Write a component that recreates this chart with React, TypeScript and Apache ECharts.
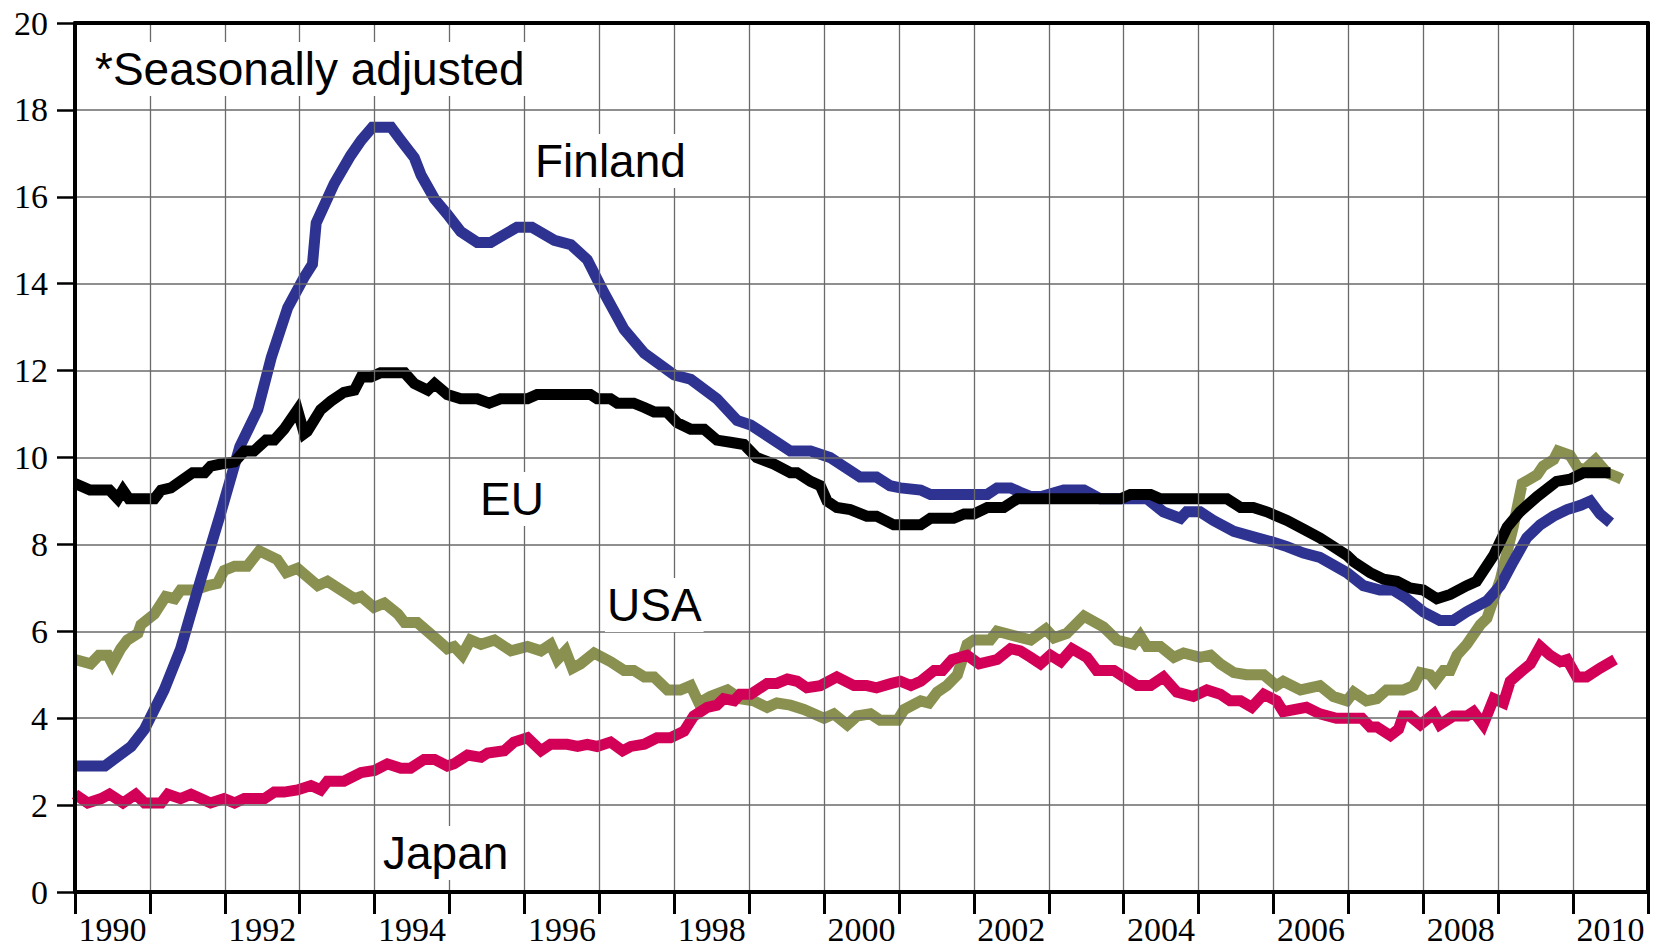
import React, { useEffect, useRef } from "react";
import * as echarts from "echarts";

const finland: [number, number][] = [
  [1990.0, 2.9], [1990.4, 2.9], [1990.75, 3.35], [1990.93, 3.75], [1991.19, 4.65], [1991.41, 5.6],
  [1991.68, 7.2], [1991.95, 8.75], [1992.2, 10.25], [1992.44, 11.1], [1992.62, 12.3], [1992.84, 13.45],
  [1993.06, 14.15], [1993.17, 14.45], [1993.22, 15.4], [1993.46, 16.3], [1993.68, 16.95], [1993.82, 17.3],
  [1993.97, 17.6], [1994.22, 17.6], [1994.35, 17.3], [1994.53, 16.9], [1994.62, 16.5], [1994.8, 15.95],
  [1994.97, 15.6], [1995.15, 15.2], [1995.37, 14.95], [1995.55, 14.95], [1995.9, 15.3], [1996.1, 15.3],
  [1996.4, 15.0], [1996.62, 14.9], [1996.84, 14.55], [1997.06, 13.8], [1997.33, 12.95], [1997.6, 12.4],
  [1998.0, 11.9], [1998.22, 11.8], [1998.57, 11.35], [1998.84, 10.85], [1999.02, 10.75], [1999.55, 10.15],
  [1999.82, 10.15], [2000.08, 10.0], [2000.48, 9.55], [2000.7, 9.55], [2000.88, 9.35], [2001.02, 9.3],
  [2001.29, 9.25], [2001.42, 9.15], [2002.18, 9.15], [2002.31, 9.3], [2002.49, 9.3], [2002.62, 9.2],
  [2002.76, 9.1], [2002.9, 9.1], [2003.2, 9.25], [2003.47, 9.25], [2003.69, 9.05], [2004.31, 9.05],
  [2004.53, 8.75], [2004.76, 8.6], [2004.84, 8.75], [2005.02, 8.75], [2005.2, 8.55], [2005.47, 8.3],
  [2005.78, 8.15], [2006.0, 8.05], [2006.18, 7.95], [2006.4, 7.8], [2006.62, 7.7], [2006.98, 7.35],
  [2007.2, 7.05], [2007.42, 6.95], [2007.6, 6.95], [2007.78, 6.75], [2008.0, 6.45], [2008.22, 6.25],
  [2008.4, 6.25], [2008.58, 6.45], [2008.85, 6.7], [2009.03, 7.05], [2009.2, 7.6], [2009.38, 8.15],
  [2009.56, 8.45], [2009.74, 8.65], [2009.92, 8.8], [2010.1, 8.9], [2010.23, 9.0], [2010.36, 8.7],
  [2010.5, 8.5],
];

const eu: [number, number][] = [
  [1990.0, 9.4], [1990.2, 9.25], [1990.46, 9.25], [1990.57, 9.05], [1990.64, 9.25], [1990.72, 9.05],
  [1991.06, 9.05], [1991.15, 9.25], [1991.28, 9.3], [1991.57, 9.65], [1991.73, 9.65], [1991.81, 9.8],
  [1991.95, 9.85], [1992.13, 9.9], [1992.26, 10.15], [1992.39, 10.15], [1992.55, 10.4], [1992.66, 10.4],
  [1992.79, 10.65], [1992.97, 11.1], [1993.06, 10.55], [1993.1, 10.6], [1993.28, 11.1], [1993.42, 11.3],
  [1993.59, 11.5], [1993.73, 11.55], [1993.82, 11.85], [1993.95, 11.85], [1994.08, 11.95], [1994.4, 11.95],
  [1994.53, 11.7], [1994.71, 11.55], [1994.8, 11.7], [1994.97, 11.45], [1995.15, 11.35], [1995.37, 11.35],
  [1995.53, 11.25], [1995.68, 11.35], [1996.04, 11.35], [1996.17, 11.45], [1996.88, 11.45], [1996.97, 11.35],
  [1997.15, 11.35], [1997.24, 11.25], [1997.46, 11.25], [1997.6, 11.15], [1997.73, 11.05], [1997.9, 11.05],
  [1998.04, 10.8], [1998.22, 10.65], [1998.4, 10.65], [1998.57, 10.4], [1998.75, 10.35], [1998.93, 10.3],
  [1999.1, 10.0], [1999.33, 9.85], [1999.55, 9.65], [1999.64, 9.65], [1999.82, 9.45], [1999.95, 9.35],
  [2000.04, 9.0], [2000.17, 8.85], [2000.35, 8.8], [2000.57, 8.65], [2000.7, 8.65], [2000.93, 8.45],
  [2001.29, 8.45], [2001.42, 8.6], [2001.73, 8.6], [2001.87, 8.7], [2002.0, 8.7], [2002.18, 8.85],
  [2002.4, 8.85], [2002.58, 9.05], [2003.96, 9.05], [2004.09, 9.15], [2004.36, 9.15], [2004.49, 9.05],
  [2005.38, 9.05], [2005.56, 8.85], [2005.73, 8.85], [2005.91, 8.75], [2006.18, 8.55], [2006.4, 8.35],
  [2006.62, 8.15], [2006.98, 7.75], [2007.07, 7.6], [2007.29, 7.35], [2007.47, 7.2], [2007.65, 7.15],
  [2007.82, 7.0], [2008.0, 6.95], [2008.18, 6.75], [2008.36, 6.85], [2008.58, 7.05], [2008.71, 7.15],
  [2008.94, 7.75], [2009.12, 8.4], [2009.29, 8.75], [2009.52, 9.1], [2009.78, 9.45], [2009.96, 9.5],
  [2010.14, 9.65], [2010.5, 9.65],
];

const usa: [number, number][] = [
  [1990.0, 5.35], [1990.21, 5.25], [1990.32, 5.45], [1990.44, 5.45], [1990.5, 5.25], [1990.61, 5.6],
  [1990.7, 5.8], [1990.84, 5.95], [1990.88, 6.15], [1991.06, 6.4], [1991.21, 6.8], [1991.33, 6.75],
  [1991.41, 6.95], [1991.59, 6.95], [1991.77, 7.05], [1991.9, 7.1], [1991.99, 7.4], [1992.13, 7.5],
  [1992.3, 7.5], [1992.46, 7.85], [1992.7, 7.65], [1992.82, 7.35], [1992.97, 7.45], [1993.24, 7.05],
  [1993.37, 7.15], [1993.73, 6.75], [1993.82, 6.8], [1993.99, 6.55], [1994.13, 6.65], [1994.31, 6.4],
  [1994.4, 6.2], [1994.57, 6.2], [1994.84, 5.8], [1994.97, 5.6], [1995.06, 5.65], [1995.17, 5.45],
  [1995.28, 5.8], [1995.42, 5.7], [1995.6, 5.8], [1995.82, 5.55], [1996.04, 5.65], [1996.22, 5.55],
  [1996.35, 5.7], [1996.44, 5.35], [1996.55, 5.55], [1996.64, 5.15], [1996.75, 5.25], [1996.93, 5.5],
  [1997.15, 5.3], [1997.33, 5.1], [1997.46, 5.1], [1997.6, 4.95], [1997.73, 4.95], [1997.91, 4.65],
  [1998.08, 4.65], [1998.22, 4.75], [1998.33, 4.35], [1998.48, 4.5], [1998.71, 4.65], [1998.88, 4.45],
  [1999.06, 4.4], [1999.24, 4.25], [1999.37, 4.35], [1999.55, 4.3], [1999.73, 4.2], [2000.0, 4.0],
  [2000.13, 4.1], [2000.31, 3.85], [2000.44, 4.05], [2000.62, 4.1], [2000.75, 3.95], [2000.98, 3.95],
  [2001.07, 4.2], [2001.29, 4.4], [2001.4, 4.35], [2001.51, 4.6], [2001.64, 4.75], [2001.78, 5.0],
  [2001.91, 5.7], [2002.0, 5.8], [2002.22, 5.8], [2002.31, 6.0], [2002.53, 5.9], [2002.76, 5.8],
  [2002.96, 6.05], [2003.07, 5.85], [2003.24, 5.95], [2003.47, 6.35], [2003.73, 6.1], [2003.91, 5.8],
  [2004.13, 5.7], [2004.22, 5.9], [2004.31, 5.65], [2004.49, 5.65], [2004.67, 5.4], [2004.8, 5.5],
  [2005.02, 5.4], [2005.16, 5.45], [2005.29, 5.25], [2005.47, 5.05], [2005.64, 5.0], [2005.87, 5.0],
  [2006.04, 4.75], [2006.13, 4.85], [2006.36, 4.65], [2006.62, 4.75], [2006.8, 4.5], [2006.98, 4.4],
  [2007.07, 4.6], [2007.24, 4.4], [2007.38, 4.45], [2007.51, 4.65], [2007.73, 4.65], [2007.87, 4.75],
  [2007.96, 5.05], [2008.09, 5.0], [2008.16, 4.85], [2008.27, 5.1], [2008.36, 5.1], [2008.45, 5.45],
  [2008.58, 5.7], [2008.76, 6.15], [2008.85, 6.3], [2009.03, 7.2], [2009.2, 8.4], [2009.32, 9.4],
  [2009.52, 9.6], [2009.6, 9.8], [2009.74, 9.95], [2009.8, 10.15], [2009.96, 10.05], [2010.05, 9.8],
  [2010.14, 9.7], [2010.3, 9.95], [2010.45, 9.65], [2010.59, 9.55], [2010.65, 9.5],
];

const japan: [number, number][] = [
  [1990.0, 2.25], [1990.17, 2.05], [1990.35, 2.15], [1990.46, 2.25], [1990.64, 2.05], [1990.81, 2.25],
  [1990.93, 2.05], [1991.15, 2.05], [1991.24, 2.25], [1991.41, 2.15], [1991.55, 2.25], [1991.81, 2.05],
  [1991.99, 2.15], [1992.13, 2.05], [1992.26, 2.15], [1992.53, 2.15], [1992.66, 2.3], [1992.79, 2.3],
  [1992.97, 2.35], [1993.15, 2.45], [1993.28, 2.35], [1993.37, 2.55], [1993.59, 2.55], [1993.82, 2.75],
  [1994.0, 2.8], [1994.17, 2.95], [1994.35, 2.85], [1994.48, 2.85], [1994.66, 3.05], [1994.8, 3.05],
  [1994.97, 2.9], [1995.06, 2.95], [1995.24, 3.15], [1995.42, 3.1], [1995.51, 3.2], [1995.73, 3.25],
  [1995.86, 3.45], [1996.04, 3.55], [1996.22, 3.25], [1996.35, 3.4], [1996.57, 3.4], [1996.71, 3.35],
  [1996.84, 3.4], [1996.97, 3.35], [1997.15, 3.45], [1997.31, 3.25], [1997.42, 3.35], [1997.6, 3.4],
  [1997.77, 3.55], [1997.95, 3.55], [1998.13, 3.7], [1998.26, 4.05], [1998.44, 4.25], [1998.57, 4.3],
  [1998.66, 4.45], [1998.8, 4.4], [1998.88, 4.55], [1999.02, 4.55], [1999.24, 4.8], [1999.37, 4.8],
  [1999.51, 4.9], [1999.64, 4.85], [1999.77, 4.7], [1999.95, 4.75], [2000.17, 4.95], [2000.4, 4.75],
  [2000.57, 4.75], [2000.7, 4.7], [2000.9, 4.8], [2001.02, 4.85], [2001.16, 4.75], [2001.29, 4.85],
  [2001.47, 5.1], [2001.58, 5.1], [2001.71, 5.35], [2001.91, 5.45], [2002.07, 5.25], [2002.31, 5.35],
  [2002.49, 5.6], [2002.62, 5.55], [2002.76, 5.4], [2002.89, 5.25], [2003.02, 5.45], [2003.16, 5.3],
  [2003.31, 5.6], [2003.51, 5.4], [2003.64, 5.1], [2003.87, 5.1], [2004.0, 4.95], [2004.18, 4.75],
  [2004.36, 4.75], [2004.53, 4.95], [2004.71, 4.6], [2004.93, 4.5], [2005.11, 4.65], [2005.29, 4.55],
  [2005.42, 4.4], [2005.56, 4.4], [2005.71, 4.25], [2005.87, 4.55], [2006.04, 4.4], [2006.13, 4.15],
  [2006.44, 4.25], [2006.62, 4.1], [2006.84, 4.0], [2007.18, 4.0], [2007.29, 3.8], [2007.38, 3.8],
  [2007.56, 3.6], [2007.67, 3.75], [2007.73, 4.05], [2007.82, 4.05], [2007.96, 3.85], [2008.14, 4.1],
  [2008.22, 3.85], [2008.4, 4.05], [2008.58, 4.05], [2008.67, 4.15], [2008.8, 3.85], [2008.94, 4.45],
  [2009.07, 4.35], [2009.16, 4.85], [2009.29, 5.05], [2009.43, 5.25], [2009.56, 5.65], [2009.69, 5.45],
  [2009.83, 5.3], [2009.92, 5.35], [2010.05, 4.95], [2010.18, 4.95], [2010.36, 5.15], [2010.56, 5.35],
];

const X_MIN = 1990;
const X_MAX = 2011;
const Y_MIN = 0;
const Y_MAX = 20;
const Y_STEP = 2;

const sansFamily = "Liberation Sans, Arial, sans-serif";
const serifFont = "34px Liberation Serif, serif";

export default function App() {
  const ref = useRef<HTMLDivElement>(null);

  useEffect(() => {
    if (!ref.current) return;
    const chart = echarts.init(ref.current, undefined, { renderer: "svg" });
    const gridColor = "#6a6a6a";
    const lineStyleFor = (color: string) => ({ color, width: 11, cap: "butt" as const, join: "miter" as const });
    const labelStyle = (text: string) => ({
      text,
      fontSize: 46,
      fontFamily: sansFamily,
      fill: "#000",
      backgroundColor: "#fff",
      padding: [4, 2],
    });
    const xLabelText = (v: number) => {
      const f = Math.floor(v + 1e-6);
      const frac = v - f;
      return Math.abs(frac - 0.5) < 1e-6 && f % 2 === 0 ? String(f) : "";
    };

    const option: any = {
      animation: false,
      backgroundColor: "#ffffff",
      grid: { left: 75, right: 13, top: 23, bottom: 57 },
      xAxis: [
        {
          type: "value",
          min: X_MIN,
          max: X_MAX,
          interval: 1,
          position: "bottom",
          axisLine: { show: true, onZero: false, lineStyle: { color: "#000", width: 4 } },
          axisTick: { show: true, inside: false, length: 22, lineStyle: { color: "#000", width: 3 } },
          axisLabel: { show: false },
          splitLine: { show: true, lineStyle: { color: gridColor, width: 1.3 } },
          z: 3,
        },
        {
          type: "value",
          min: X_MIN,
          max: X_MAX,
          interval: 0.5,
          position: "bottom",
          axisLine: { show: false },
          axisTick: { show: false },
          splitLine: { show: false },
          axisLabel: {
            show: true,
            margin: 20,
            color: "#000",
            fontFamily: "Liberation Serif",
            fontSize: 34,
            formatter: (v: number) => xLabelText(v),
          },
        },
        {
          type: "value",
          min: X_MIN,
          max: X_MAX,
          position: "top",
          axisLine: { show: true, onZero: false, lineStyle: { color: "#000", width: 4 } },
          axisTick: { show: false },
          axisLabel: { show: false },
          splitLine: { show: false },
          z: 3,
        },
      ],
      yAxis: [
        {
          type: "value",
          min: Y_MIN,
          max: Y_MAX,
          interval: Y_STEP,
          position: "left",
          axisLine: { show: true, onZero: false, lineStyle: { color: "#000", width: 4 } },
          axisTick: { show: true, inside: false, length: 18, lineStyle: { color: "#000", width: 2.5 } },
          axisLabel: { show: true, margin: 27, color: "#000", fontFamily: "Liberation Serif", fontSize: 34 },
          splitLine: { show: true, lineStyle: { color: gridColor, width: 1.6 } },
          z: 3,
        },
        {
          type: "value",
          min: Y_MIN,
          max: Y_MAX,
          interval: Y_STEP,
          position: "right",
          axisLine: { show: true, onZero: false, lineStyle: { color: "#000", width: 4 } },
          axisTick: { show: false },
          axisLabel: { show: false },
          splitLine: { show: false },
          z: 3,
        },
      ],
      series: [
        { name: "USA", type: "line", data: usa, showSymbol: false, symbol: "none", lineStyle: lineStyleFor("#8a9150"), z: 2 },
        { name: "Japan", type: "line", data: japan, showSymbol: false, symbol: "none", lineStyle: lineStyleFor("#d20057"), z: 2 },
        { name: "Finland", type: "line", data: finland, showSymbol: false, symbol: "none", lineStyle: lineStyleFor("#2e3391"), z: 2 },
        { name: "EU", type: "line", data: eu, showSymbol: false, symbol: "none", lineStyle: lineStyleFor("#000000"), z: 2 },
      ],
      graphic: [
        { type: "text", left: 93, top: 42, z: 10, style: labelStyle("*Seasonally adjusted") },
        { type: "text", left: 533, top: 134, z: 10, style: labelStyle("Finland") },
        { type: "text", left: 478, top: 472, z: 10, style: labelStyle("EU") },
        { type: "text", left: 605, top: 578, z: 10, style: labelStyle("USA") },
        { type: "text", left: 381, top: 826, z: 10, style: labelStyle("Japan") },
      ],
    };

    chart.setOption(option);
    void serifFont;
    return () => chart.dispose();
  }, []);

  return (
    <div
      ref={ref}
      style={{ position: "fixed", left: 0, top: 0, width: 1661, height: 949, background: "#fff" }}
    />
  );
}
